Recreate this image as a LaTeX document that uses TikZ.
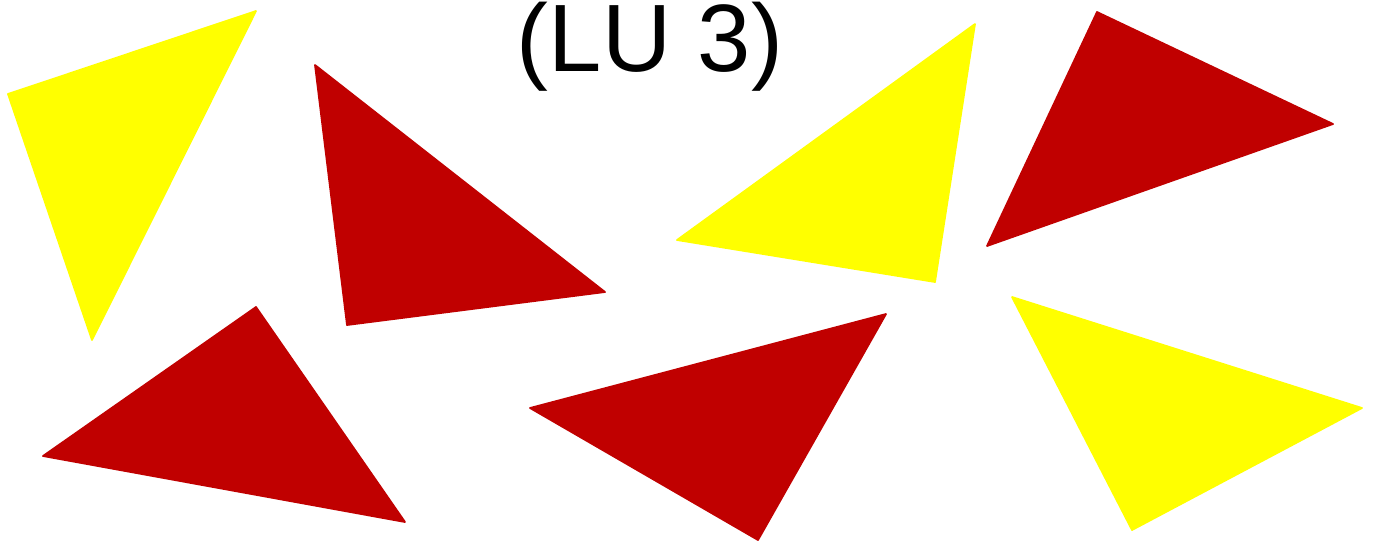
\documentclass[tikz,border=0pt]{standalone}
\usepackage{fontspec}
\setmainfont{Liberation Sans}
\usepackage{xcolor}
\definecolor{Canvas}{HTML}{FFFFFF}
\definecolor{Red}{HTML}{C00000}
\definecolor{Gold}{HTML}{FFFF00}
\begin{document}
\begin{tikzpicture}[x=0.02cm,y=-0.02cm,redtri/.style={fill=Red,draw=Red,line width=1pt,line join=round},yellowtri/.style={fill=Gold,draw=Gold,line width=1pt,line join=round}]
\useasboundingbox (0,0) rectangle (1375,542);
\fill[Canvas] (0,0) rectangle (1375,542);
\node[anchor=base,font=\fontsize{54.5}{60}\selectfont,inner sep=0pt] (title) at (650,71) {(LU 3)};
\filldraw[yellowtri] (8,94) -- (256,11) -- (92,340) -- cycle;
\filldraw[redtri] (315,65) -- (605,292) -- (347,325) -- cycle;
\filldraw[yellowtri] (975,24) -- (935,282) -- (677,240) -- cycle;
\filldraw[redtri] (1097,12) -- (1333,124) -- (987,246) -- cycle;
\filldraw[redtri] (256,307) -- (405,522) -- (43,456) -- cycle;
\filldraw[redtri] (530,408) -- (886,314) -- (758,540) -- cycle;
\filldraw[yellowtri] (1012,297) -- (1362,408) -- (1132,530) -- cycle;
\end{tikzpicture}
\end{document}
